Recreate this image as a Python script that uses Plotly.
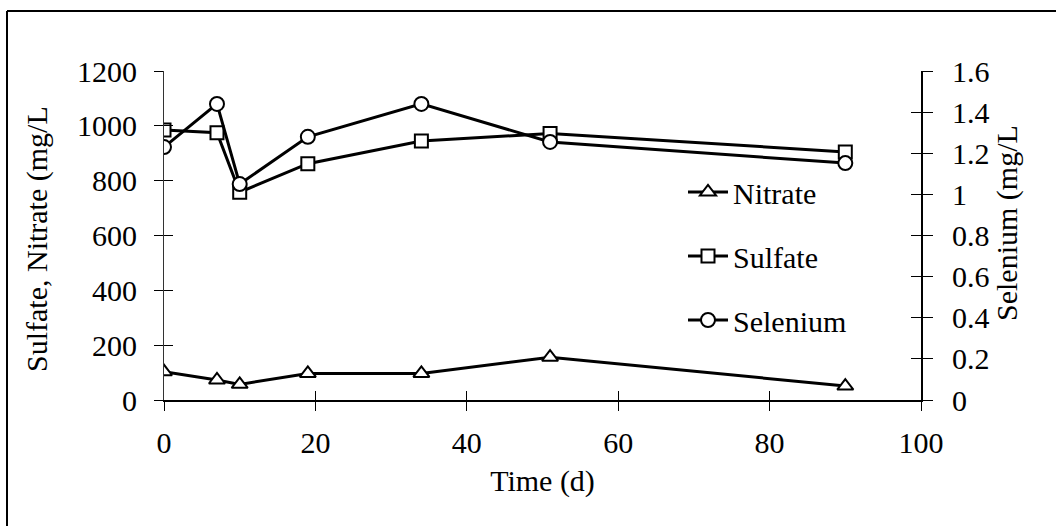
import plotly.graph_objects as go

time_nitrate = [0, 7, 10, 19, 34, 51, 90]
nitrate = [103, 73, 57, 97, 97, 156, 51]
time_sulfate = [0, 7, 10, 19, 34, 51, 90]
sulfate = [985, 975, 758, 862, 945, 972, 905]
time_selenium = [0, 7, 10, 19, 34, 51, 90]
selenium = [1.23, 1.44, 1.05, 1.28, 1.44, 1.255, 1.152]

left_ticks = [0, 200, 400, 600, 800, 1000, 1200]
right_ticks = [0, 0.2, 0.4, 0.6, 0.8, 1.0, 1.2, 1.4, 1.6]
x_ticks = [0, 20, 40, 60, 80, 100]

FONT = "Liberation Serif, Times New Roman, serif"
FS = 30

fig = go.Figure()
line = dict(color="black", width=3)
fig.add_trace(go.Scatter(x=time_nitrate, y=nitrate, name="Nitrate", mode="lines+markers",
                         line=line, legendgroup="a",
                         marker=dict(symbol="triangle-up", size=14, color="white",
                                     line=dict(color="black", width=2))))
fig.add_trace(go.Scatter(x=time_sulfate, y=sulfate, name="Sulfate", mode="lines+markers",
                         line=line, legendgroup="b",
                         marker=dict(symbol="square", size=13, color="white",
                                     line=dict(color="black", width=2))))
fig.add_trace(go.Scatter(x=time_selenium, y=selenium, name="Selenium", mode="lines+markers",
                         line=line, yaxis="y2", legendgroup="c",
                         marker=dict(symbol="circle", size=14, color="white",
                                     line=dict(color="black", width=2))))
# invisible helpers so overlay tick axes get drawn
fig.add_trace(go.Scatter(x=[None], y=[None], xaxis="x2", yaxis="y3", showlegend=False, hoverinfo="skip"))
fig.add_trace(go.Scatter(x=[None], y=[None], xaxis="x2", yaxis="y4", showlegend=False, hoverinfo="skip"))

tickfont = dict(family=FONT, size=FS, color="black")
fig.update_layout(
    width=1056, height=526,
    margin=dict(l=164, r=135, t=71, b=126),
    paper_bgcolor="white", plot_bgcolor="white",
    font=dict(family=FONT, size=FS, color="black"),
    showlegend=True,
    legend=dict(x=(683 - 164) / 757, y=(400 - 166) / 329, xanchor="left", yanchor="top",
                font=dict(family=FONT, size=FS, color="black"),
                bgcolor="rgba(0,0,0,0)", tracegroupgap=22, itemwidth=40),
    xaxis=dict(range=[0, 100], tickvals=x_ticks, ticks="outside", ticklen=9, tickwidth=1,
               tickcolor="black", showline=True, linecolor="black", linewidth=2,
               showgrid=False, zeroline=False, tickfont=tickfont, ticklabelstandoff=6,
               title=dict(text="Time (d)", font=tickfont, standoff=12)),
    xaxis2=dict(range=[0, 100], tickvals=x_ticks, ticks="inside", ticklen=9, tickwidth=1,
                tickcolor="black", showticklabels=False, showline=False, showgrid=False,
                zeroline=False, overlaying="x", anchor="y3"),
    yaxis=dict(range=[0, 1200], tickvals=left_ticks, ticks="outside", ticklen=9, tickwidth=1,
               tickcolor="black", showline=True, linecolor="#333", linewidth=1,
               showgrid=False, zeroline=False, tickfont=tickfont, ticklabelstandoff=11),
    yaxis2=dict(range=[0, 1.6], tickvals=right_ticks, ticks="outside", ticklen=10, tickwidth=1,
                tickcolor="black", showline=True, linecolor="black", linewidth=2,
                showgrid=False, zeroline=False, tickfont=tickfont, side="right",
                overlaying="y", anchor="x", ticklabelstandoff=13),
    yaxis3=dict(range=[0, 1200], tickvals=left_ticks, ticks="inside", ticklen=9, tickwidth=1,
                tickcolor="black", showticklabels=False, showline=False, showgrid=False,
                zeroline=False, overlaying="y", anchor="x2", side="left"),
    yaxis4=dict(range=[0, 1.6], tickvals=right_ticks, ticks="inside", ticklen=10, tickwidth=1,
                tickcolor="black", showticklabels=False, showline=False, showgrid=False,
                zeroline=False, overlaying="y", anchor="x2", side="right"),
)

# axis titles (truncated as in the reference)
fig.add_annotation(text="Sulfate, Nitrate (mg/L", xref="paper", yref="paper",
                   x=(37 - 164) / 757, y=(400 - 239) / 329, textangle=-90,
                   showarrow=False, font=tickfont, xanchor="center", yanchor="middle")
fig.add_annotation(text="Selenium (mg/L", xref="paper", yref="paper",
                   x=(1007 - 164) / 757, y=(400 - 223) / 329, textangle=-90,
                   showarrow=False, font=tickfont, xanchor="center", yanchor="middle")

# outer frame (left and top edges visible)
x0 = (7 - 164) / 757
ytop = (400 - 11) / 329
fig.add_shape(type="line", xref="paper", yref="paper", x0=x0, x1=x0, y0=-0.5, y1=ytop,
              line=dict(color="black", width=2))
fig.add_shape(type="line", xref="paper", yref="paper", x0=x0, x1=1.3, y0=ytop, y1=ytop,
              line=dict(color="black", width=2))

fig.write_html("out.html", config={"displayModeBar": False},
               post_script="document.body.style.margin='0px';")
